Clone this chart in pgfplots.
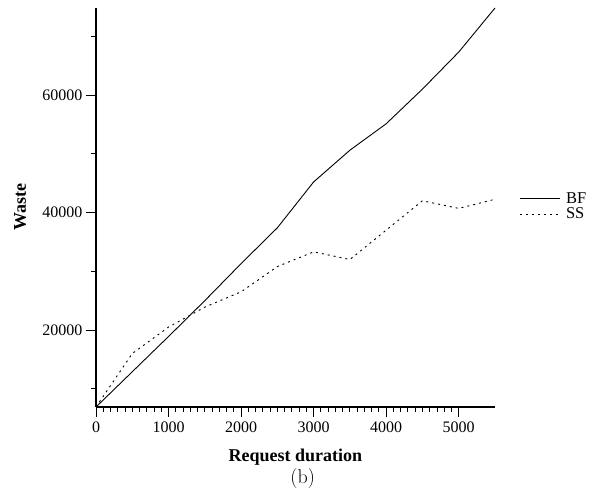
\documentclass[border=0pt]{standalone}
\usepackage{fontspec}
\usepackage{pgfplots}
\pgfplotsset{compat=1.18}
\newfontfamily\timesfont{Liberation Serif}
\begin{document}
\begin{tikzpicture}
\path (-96pt,-86pt) rectangle (500pt,407pt);
\begin{axis}[
  at={(0,0)}, anchor=south west,
  scale only axis, width=399pt, height=399pt,
  xmin=0, xmax=5500, ymin=6900, ymax=74800,
  axis x line=bottom, axis y line=left,
  axis line style={-, line width=1.2pt},
  xtick={0,1000,2000,3000,4000,5000},
  minor x tick num=9,
  ytick={20000,40000,60000},
  minor ytick={10000,30000,50000,70000},
  tick align=outside,
  major tick length=10pt, minor tick length=5pt,
  every tick/.style={black, line width=0.9pt},
  scaled y ticks=false, scaled x ticks=false,
  xticklabel={\pgfmathprintnumber[assume math mode=true, 1000 sep={}]{\tick}},
  yticklabel={\pgfmathprintnumber[assume math mode=true, 1000 sep={}]{\tick}},
  tick label style={font=\timesfont\fontsize{16}{16}\selectfont},
  xticklabel style={yshift=-1pt},
  xlabel={Request duration},
  ylabel={Waste},
  label style={font=\timesfont\bfseries\fontsize{18}{18}\selectfont},
  xlabel style={at={(axis description cs:0.5,-0.125)}, anchor=center},
  ylabel style={at={(axis description cs:-0.19,0.5)}, anchor=center},
  legend style={at={(axis description cs:1.06,0.54)}, anchor=north west,
    draw=none, fill=none, inner sep=0pt, row sep=1pt, column sep=5pt,
    font=\timesfont\fontsize{16.5}{15}\selectfont,
    nodes={inner sep=1pt}},
  legend cell align=left,
  legend image code/.code={\draw[#1] (0pt,0pt) -- (40pt,0pt);},
  clip=false,
]
\addplot[black, line width=0.9pt] coordinates {
 (0,6900) (500,12900) (1000,18900) (1500,25000) (2000,31300) (2500,37400)
 (3000,45200) (3500,50600) (4000,55100) (4500,61000) (5000,67300) (5500,74800)
};
\addlegendentry{BF}
\addplot[black, line width=0.9pt, dash pattern=on 2pt off 4pt] coordinates {
 (0,6900) (500,16000) (1000,20500) (1500,23900) (2000,26500) (2500,30800)
 (3000,33300) (3500,32000) (4000,37000) (4500,42000) (5000,40700) (5500,42250)
};
\addlegendentry{SS}
\node[font=\fontsize{20}{20}\selectfont] at (axis description cs:0.518,-0.178) {(b)};
\end{axis}
\end{tikzpicture}
\end{document}
